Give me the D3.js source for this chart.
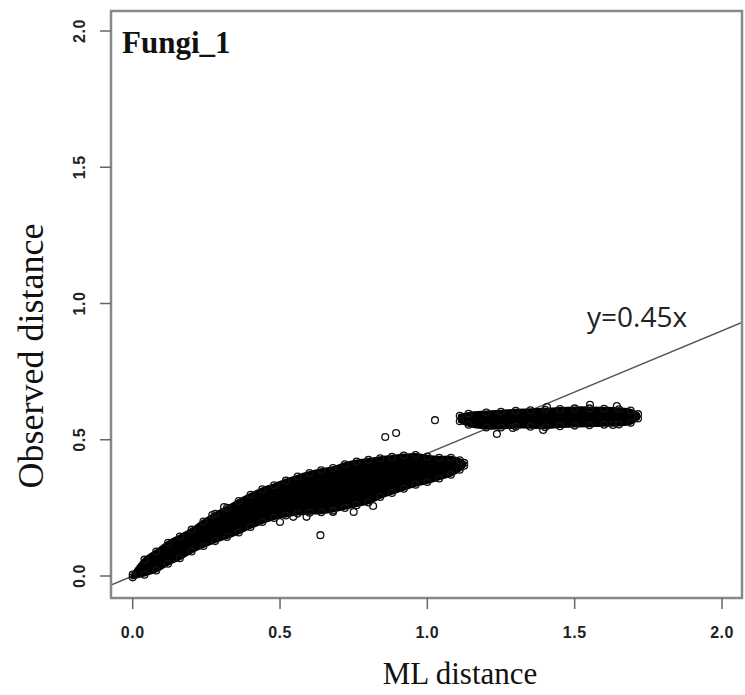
<!DOCTYPE html>
<html lang="en">
<head>
    <meta charset="UTF-8">
    <title>Fungi_1 - ML vs observed distance</title>
    <script src="https://d3js.org/d3.v7.min.js"></script>
    <style>
        body { margin: 0; background: #fff; }
        svg { display: block; }
        .tick-label { font-family: "Liberation Sans", Arial, sans-serif; font-weight: bold; font-size: 16px; fill: #222; letter-spacing: 0.5px; }
        .axis-title { font-family: "Liberation Serif", "Times New Roman", serif; fill: #111; }
    </style>
</head>
<body>
<div id="chart"></div>
<script>
// tick values + labels
const xTicks = [0, 0.5, 1.0, 1.5, 2.0];
const yTicks = [0, 0.5, 1.0, 1.5, 2.0];
const tickLabels = ["0.0", "0.5", "1.0", "1.5", "2.0"];

// dense main cloud (points overlap into a solid band): x, lower and upper edge
const mainX  = [0.00, 0.04, 0.08, 0.12, 0.16, 0.20, 0.24, 0.28, 0.32, 0.36, 0.40, 0.44, 0.48, 0.52, 0.56, 0.60, 0.64, 0.68, 0.72, 0.76, 0.80, 0.84, 0.88, 0.92, 0.96, 1.00, 1.04, 1.08, 1.11, 1.125];
const mainLo = [-0.005, 0.005, 0.020, 0.045, 0.065, 0.090, 0.110, 0.128, 0.143, 0.160, 0.180, 0.198, 0.213, 0.222, 0.229, 0.232, 0.234, 0.240, 0.250, 0.260, 0.270, 0.290, 0.305, 0.320, 0.335, 0.345, 0.358, 0.372, 0.390, 0.405];
const mainHi = [0.005, 0.060, 0.090, 0.122, 0.145, 0.170, 0.200, 0.228, 0.250, 0.275, 0.298, 0.318, 0.333, 0.350, 0.365, 0.378, 0.388, 0.396, 0.410, 0.420, 0.426, 0.432, 0.437, 0.442, 0.444, 0.438, 0.434, 0.434, 0.425, 0.415];

// second cluster around y ~ 0.58
const upperX  = [1.11, 1.14, 1.20, 1.25, 1.30, 1.35, 1.40, 1.45, 1.50, 1.55, 1.60, 1.65, 1.69, 1.715];
const upperLo = [0.568, 0.555, 0.545, 0.545, 0.548, 0.548, 0.546, 0.550, 0.552, 0.553, 0.555, 0.556, 0.562, 0.578];
const upperHi = [0.588, 0.595, 0.600, 0.603, 0.606, 0.608, 0.610, 0.613, 0.615, 0.615, 0.614, 0.612, 0.607, 0.594];

// scattered single points
const outlierX = [0.637, 0.857, 0.894, 1.026, 0.816, 0.27, 0.31, 0.50, 0.545, 0.59, 0.68, 0.75, 1.236, 1.29, 1.393, 1.63, 1.552, 1.406, 1.643];
const outlierY = [0.150, 0.510, 0.525, 0.572, 0.257, 0.224, 0.253, 0.198, 0.217, 0.217, 0.235, 0.235, 0.521, 0.543, 0.536, 0.554, 0.628, 0.620, 0.624];

const fitSlope = 0.45;
const fitLabel = "y=0.45x";

const width = 745, height = 695;
const box = { left: 111, right: 742, top: 11, bottom: 598 };

const x = d3.scaleLinear().domain([0, 2]).range([132.7, 722]);
const y = d3.scaleLinear().domain([0, 2]).range([576, 31]);

const svg = d3.select("#chart").append("svg")
    .attr("width", width)
    .attr("height", height);

svg.append("defs").append("clipPath").attr("id", "plotClip")
    .append("rect")
    .attr("x", box.left).attr("y", box.top)
    .attr("width", box.right - box.left).attr("height", box.bottom - box.top);

const plot = svg.append("g").attr("clip-path", "url(#plotClip)");

// fitted line (under the points, the cloud hides it)
const xr = [x.invert(box.left), x.invert(box.right)];
plot.append("line")
    .attr("x1", x(xr[0])).attr("y1", y(fitSlope * xr[0]))
    .attr("x2", x(xr[1])).attr("y2", y(fitSlope * xr[1]))
    .attr("stroke", "#555")
    .attr("stroke-width", 1.5);

// bands
const area = d3.area()
    .x(d => x(d.x))
    .y0(d => y(d.lo))
    .y1(d => y(d.hi))
    .curve(d3.curveCatmullRom);

const bands = [
    mainX.map((v, i) => ({ x: v, lo: mainLo[i], hi: mainHi[i] })),
    upperX.map((v, i) => ({ x: v, lo: upperLo[i], hi: upperHi[i] }))
];

plot.selectAll("path.band")
    .data(bands)
    .enter().append("path")
    .attr("class", "band")
    .attr("d", area)
    .attr("fill", "#000")
    .attr("stroke", "#000")
    .attr("stroke-width", 4)
    .attr("stroke-linejoin", "round");

// open circles on the band edges
const edgePts = [];
bands.forEach(b => b.forEach(d => {
    edgePts.push([d.x, d.lo]);
    edgePts.push([d.x, d.hi]);
}));
outlierX.forEach((v, i) => edgePts.push([v, outlierY[i]]));

plot.selectAll("circle.pt")
    .data(edgePts)
    .enter().append("circle")
    .attr("class", "pt")
    .attr("cx", d => x(d[0]))
    .attr("cy", d => y(d[1]))
    .attr("r", 3.4)
    .attr("fill", "none")
    .attr("stroke", "#111")
    .attr("stroke-width", 1.3);

// box
svg.append("rect")
    .attr("x", box.left).attr("y", box.top)
    .attr("width", box.right - box.left).attr("height", box.bottom - box.top)
    .attr("fill", "none")
    .attr("stroke", "#888")
    .attr("stroke-width", 2.5);

// x axis
const xAxis = svg.append("g");
xAxis.selectAll("line")
    .data(xTicks).enter().append("line")
    .attr("x1", d => x(d)).attr("x2", d => x(d))
    .attr("y1", box.bottom).attr("y2", box.bottom + 11)
    .attr("stroke", "#666").attr("stroke-width", 1.5);
xAxis.selectAll("text")
    .data(xTicks).enter().append("text")
    .attr("class", "tick-label")
    .attr("x", d => x(d))
    .attr("y", 638)
    .attr("text-anchor", "middle")
    .text((d, i) => tickLabels[i]);

// y axis
const yAxis = svg.append("g");
yAxis.selectAll("line")
    .data(yTicks).enter().append("line")
    .attr("x1", box.left - 11).attr("x2", box.left)
    .attr("y1", d => y(d)).attr("y2", d => y(d))
    .attr("stroke", "#666").attr("stroke-width", 1.5);
yAxis.selectAll("text")
    .data(yTicks).enter().append("text")
    .attr("class", "tick-label")
    .attr("text-anchor", "middle")
    .attr("transform", d => "translate(85," + y(d) + ") rotate(-90)")
    .text((d, i) => tickLabels[i]);

// titles
svg.append("text")
    .attr("x", 122).attr("y", 53)
    .attr("font-family", "'Liberation Serif', 'Times New Roman', serif")
    .attr("font-weight", "bold")
    .attr("font-size", 31)
    .attr("fill", "#111")
    .text("Fungi_1");

svg.append("text")
    .attr("class", "axis-title")
    .attr("x", 460).attr("y", 684)
    .attr("text-anchor", "middle")
    .attr("font-size", 31)
    .text("ML distance");

svg.append("text")
    .attr("class", "axis-title")
    .attr("text-anchor", "middle")
    .attr("font-size", 36)
    .attr("transform", "translate(43,356) rotate(-90)")
    .text("Observed distance");

svg.append("text")
    .attr("x", 587).attr("y", 327)
    .attr("font-family", "'Open Sans', sans-serif")
    .attr("font-size", 28)
    .attr("fill", "#222")
    .text(fitLabel);
</script>
</body>
</html>
